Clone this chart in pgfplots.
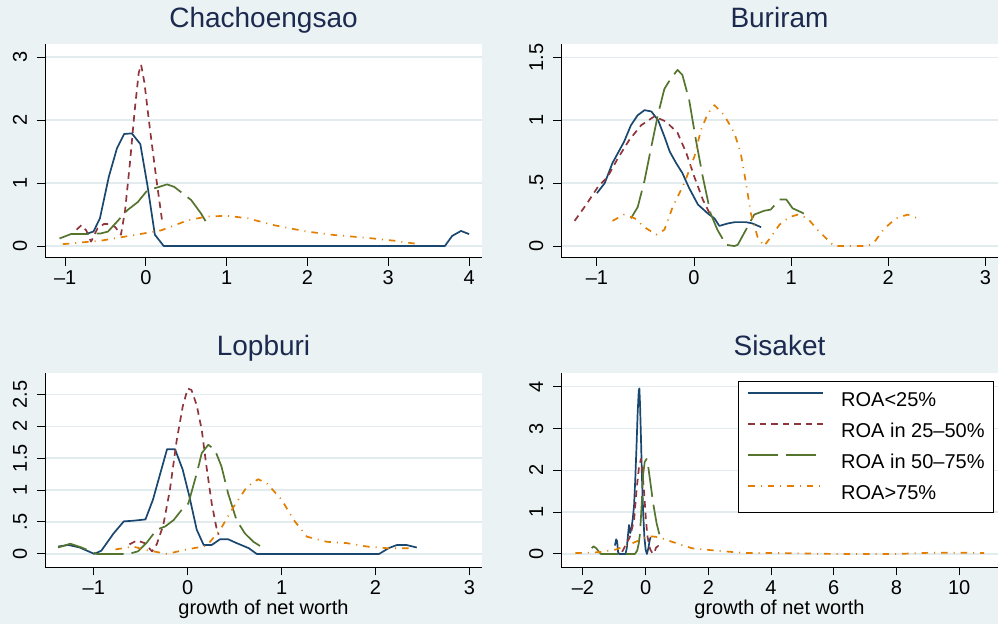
\documentclass[border=0pt]{standalone}
\usepackage{fontspec}
\setmainfont{Liberation Sans}
\usepackage{pgfplots}
\pgfplotsset{compat=1.18}

\definecolor{bgc}{RGB}{234,242,243}
\definecolor{gridc}{RGB}{226,235,238}
\definecolor{titlec}{RGB}{28,42,80}
\definecolor{s1}{RGB}{26,71,111}
\definecolor{s2}{RGB}{144,53,59}
\definecolor{s3}{RGB}{85,117,47}
\definecolor{s4}{RGB}{227,126,0}

\newcommand{\tickfont}{\fontsize{20}{24}\selectfont}
\newcommand{\titlefont}{\fontsize{28}{32}\selectfont}

\pgfplotsset{
  panel/.style={
    scale only axis,
    width=437pt,
    axis background/.style={fill=white},
    axis x line*=bottom, axis y line*=left,
    axis line style={black, line width=1pt, -},
    tick align=outside,
    major tick length=8pt,
    tick style={black, line width=1pt},
    ymajorgrids,
    grid style={gridc, line width=1.5pt},
    title style={font=\titlefont, color=titlec, at={(0.5,1)}, anchor=base, yshift=10.7pt},
    xticklabel style={font=\tickfont, anchor=base, yshift=-19pt},
    yticklabel style={font=\tickfont, xshift=-10pt, rotate=90, anchor=base},
    every axis plot/.append style={line width=1.7pt, line join=round},
  },
  c1/.style={s1, solid},
  c2/.style={s2, dash pattern=on 6.5pt off 5pt},
  c3/.style={s3, dash pattern=on 30pt off 8pt},
  c4/.style={s4, dash pattern=on 6.5pt off 6pt on 1pt off 6pt},
}

\begin{document}
\begin{tikzpicture}
\fill[bgc] (0,0) rectangle (998pt,624pt);

% Chachoengsao
\begin{axis}[panel, at={(45pt,366pt)}, anchor=south west, height=214pt,
  title={Chachoengsao},
  xmin=-1.25, xmax=4.16, ymin=-0.19, ymax=3.21,
  xtick={-1,0,1,2,3,4}, xticklabels={–1,0,1,2,3,4},
  ytick={0,1,2,3}, yticklabels={0,1,2,3}]
\addplot[c1] coordinates {
 (-0.72,0.20) (-0.65,0.23) (-0.57,0.44) (-0.46,1.10) (-0.36,1.55) (-0.27,1.78)
 (-0.175,1.79) (-0.07,1.62) (0.02,0.95) (0.11,0.18) (0.22,0) (3.70,0)
 (3.79,0.16) (3.90,0.24) (4.00,0.19)};
\addplot[c2] coordinates {
 (-0.86,0.26) (-0.80,0.33) (-0.74,0.25) (-0.68,0.07) (-0.60,0.28) (-0.52,0.35)
 (-0.44,0.35) (-0.38,0.30) (-0.31,0.18) (-0.26,0.55) (-0.20,1.30) (-0.14,2.15)
 (-0.09,2.75) (-0.06,2.88) (-0.02,2.60) (0.05,1.85) (0.13,1.05) (0.20,0.40)};
\addplot[c3] coordinates {
 (-1.07,0.12) (-0.93,0.19) (-0.72,0.19) (-0.56,0.20) (-0.47,0.23) (-0.37,0.37)
 (-0.23,0.57) (-0.10,0.70) (0.02,0.89) (0.14,0.93) (0.26,0.98) (0.35,0.94)
 (0.45,0.84) (0.56,0.73) (0.68,0.52) (0.76,0.35)};
\addplot[c4] coordinates {
 (-1.03,0.03) (-0.56,0.085) (-0.14,0.175) (0.19,0.25) (0.52,0.41) (0.76,0.47)
 (1.01,0.48) (1.26,0.44) (1.59,0.33) (1.99,0.23) (2.33,0.175) (2.74,0.13)
 (3.07,0.085) (3.38,0.03)};
\end{axis}

% Buriram
\begin{axis}[panel, at={(561pt,366pt)}, anchor=south west, height=214pt,
  title={Buriram},
  xmin=-1.37, xmax=3.13, ymin=-0.095, ymax=1.606,
  xtick={-1,0,1,2,3}, xticklabels={–1,0,1,2,3},
  ytick={0,0.5,1,1.5}, yticklabels={0,.5,1,1.5}]
\addplot[c1] coordinates {
 (-1.0,0.42) (-0.92,0.50) (-0.84,0.66) (-0.72,0.83) (-0.65,0.96) (-0.58,1.04)
 (-0.51,1.08) (-0.44,1.07) (-0.37,1.00) (-0.305,0.87) (-0.25,0.75) (-0.185,0.66)
 (-0.12,0.58) (-0.05,0.46) (0.04,0.33) (0.14,0.26) (0.21,0.22) (0.26,0.16)
 (0.35,0.18) (0.42,0.19) (0.535,0.19) (0.60,0.18) (0.69,0.15)};
\addplot[c2] coordinates {
 (-1.23,0.20) (-1.11,0.33) (-0.99,0.47) (-0.89,0.55) (-0.79,0.69) (-0.67,0.84)
 (-0.545,0.96) (-0.41,1.03) (-0.29,0.99) (-0.17,0.90) (-0.08,0.74) (0.003,0.55)
 (0.09,0.37) (0.16,0.26)};
\addplot[c3] coordinates {
 (-0.65,0.22) (-0.58,0.31) (-0.51,0.52) (-0.44,0.79) (-0.37,1.05) (-0.305,1.25)
 (-0.24,1.33) (-0.17,1.40) (-0.12,1.36) (-0.05,1.16) (0.02,0.84) (0.09,0.55)
 (0.17,0.26) (0.24,0.13) (0.33,0.01) (0.415,0) (0.45,0.01) (0.535,0.13)
 (0.62,0.25) (0.72,0.28) (0.79,0.29) (0.88,0.37) (0.95,0.37) (1.015,0.30)
 (1.10,0.27) (1.20,0.23)};
\addplot[c4] coordinates {
 (-0.84,0.20) (-0.72,0.25) (-0.61,0.22) (-0.51,0.15) (-0.39,0.09) (-0.305,0.13)
 (-0.22,0.31) (-0.10,0.50) (0.003,0.71) (0.07,0.92) (0.14,1.05) (0.21,1.12)
 (0.31,1.04) (0.415,0.90) (0.48,0.74) (0.535,0.50) (0.585,0.26) (0.655,0.07)
 (0.72,0) (0.79,0.07) (0.88,0.17) (0.98,0.23) (1.07,0.25) (1.17,0.22)
 (1.27,0.13) (1.375,0.05) (1.44,0) (1.79,0) (1.86,0.035) (1.96,0.14)
 (2.08,0.22) (2.20,0.25) (2.34,0.21)};
\end{axis}

% Lopburi
\begin{axis}[panel, at={(45pt,56.7pt)}, anchor=south west, height=194pt,
  title={Lopburi}, title style={yshift=0.9pt},
  xlabel={growth of net worth},
  xlabel style={font=\tickfont, at={(axis description cs:0.5,0)}, anchor=base, yshift=-47.5pt},
  xmin=-1.52, xmax=3.135, ymin=-0.21, ymax=2.83,
  xtick={-1,0,1,2,3}, xticklabels={–1,0,1,2,3},
  ytick={0,0.5,1,1.5,2,2.5}, yticklabels={0,.5,1,1.5,2,2.5}]
\addplot[c1] coordinates {
 (-1.38,0.115) (-1.27,0.14) (-1.15,0.10) (-0.995,0) (-0.92,0.05) (-0.79,0.32)
 (-0.68,0.51) (-0.58,0.52) (-0.45,0.54) (-0.37,0.85) (-0.22,1.64) (-0.135,1.64)
 (-0.053,1.32) (0.018,0.90) (0.096,0.38) (0.17,0.14) (0.256,0.14) (0.345,0.23)
 (0.43,0.23) (0.52,0.17) (0.65,0.09) (0.735,0) (2.04,0) (2.14,0.09)
 (2.23,0.14) (2.33,0.14) (2.44,0.10)};
\addplot[c2] coordinates {
 (-0.62,0.15) (-0.54,0.21) (-0.46,0.17) (-0.38,0.04) (-0.33,0.15) (-0.26,0.45)
 (-0.19,1.0) (-0.117,1.78) (-0.053,2.31) (0.0,2.59) (0.04,2.57) (0.096,2.33)
 (0.15,1.94) (0.20,1.37) (0.256,0.79) (0.31,0.38) (0.33,0.30)};
\addplot[c3] coordinates {
 (-1.38,0.10) (-1.25,0.16) (-1.13,0.10) (-0.97,0) (-0.63,0) (-0.53,0.04)
 (-0.44,0.17) (-0.33,0.38) (-0.24,0.43) (-0.15,0.53) (-0.064,0.69) (0.007,0.79)
 (0.096,1.26) (0.15,1.58) (0.22,1.71) (0.29,1.63) (0.36,1.37) (0.43,0.95)
 (0.52,0.53) (0.61,0.32) (0.70,0.19) (0.77,0.125)};
\addplot[c4] coordinates {
 (-0.77,0.07) (-0.58,0.115) (-0.44,0.06) (-0.22,0) (-0.01,0.07) (0.20,0.125)
 (0.345,0.375) (0.49,0.74) (0.63,1.05) (0.75,1.17) (0.84,1.11) (1.0,0.85)
 (1.13,0.53) (1.27,0.27) (1.48,0.19) (1.69,0.17) (1.91,0.115) (2.12,0.09)
 (2.40,0.09)};
\end{axis}

% Sisaket
\begin{axis}[panel, at={(561pt,56.7pt)}, anchor=south west, height=194pt,
  title={Sisaket}, title style={yshift=0.9pt},
  xlabel={growth of net worth},
  xlabel style={font=\tickfont, at={(axis description cs:0.5,0)}, anchor=base, yshift=-47.5pt},
  xmin=-2.70, xmax=11.24, ymin=-0.32, ymax=4.32,
  xtick={-2,0,2,4,6,8,10}, xticklabels={–2,0,2,4,6,8,10},
  ytick={0,1,2,3,4}, yticklabels={0,1,2,3,4},
  legend cell align=left,
  legend image code/.code={\draw[#1] (0pt,7pt) -- (75pt,7pt);},
  legend style={at={(axis description cs:0.405,0.962)}, anchor=north west,
    draw=black, line width=1pt, fill=white, inner sep=9pt,
    row sep=11pt, column sep=17pt, font=\tickfont,
    nodes={inner sep=0pt, text height=16pt, text depth=4pt}}]
\addplot[c1] coordinates {
 (-0.98,0.20) (-0.94,0.35) (-0.91,0.30) (-0.88,0.05) (-0.85,0) (-0.64,0)
 (-0.60,0.15) (-0.57,0.40) (-0.53,0.69) (-0.49,0.50) (-0.45,0.62) (-0.41,0.85)
 (-0.37,1.15) (-0.33,1.8) (-0.29,2.6) (-0.255,3.37) (-0.22,3.9) (-0.20,3.96)
 (-0.18,3.6) (-0.15,2.8) (-0.12,1.9) (-0.08,1.0) (-0.04,0.4) (0.0,0.1)
 (0.04,0) (0.09,0.15) (0.13,0.33) (0.16,0.40)};
\addlegendentry{ROA<25\%}
\addplot[c2] coordinates {
 (-0.75,0.05) (-0.66,0.18) (-0.50,0.41) (-0.37,0.81) (-0.29,1.53) (-0.21,2.09)
 (-0.15,2.27) (-0.10,1.95) (-0.04,1.37) (0.01,0.81) (0.06,0.41) (0.14,0.12)
 (0.22,0.01) (0.27,0.02) (0.33,0.15) (0.40,0.19) (0.47,0.17) (0.52,0.14)};
\addlegendentry{ROA in 25–50\%}
\addplot[c3] coordinates {
 (-1.72,0.14) (-1.66,0.18) (-1.58,0.14) (-1.50,0.06) (-1.43,0) (-0.34,0)
 (-0.27,0.08) (-0.22,0.25) (-0.18,0.49) (-0.13,1.13) (-0.08,1.9) (-0.03,2.2)
 (0.03,2.27) (0.08,2.1) (0.14,1.77) (0.24,1.21) (0.35,0.73) (0.47,0.37)};
\addlegendentry{ROA in 50–75\%}
\addplot[c4] coordinates {
 (-2.24,0.02) (-1.5,0.04) (-0.97,0.1) (-0.44,0.25) (-0.2,0.33) (-0.01,0.40)
 (0.2,0.42) (0.41,0.40) (0.84,0.29) (1.48,0.135) (2.22,0.08) (3.18,0.02)
 (4.35,0.02) (5.95,0) (8.07,0) (9.14,0.03) (10.2,0.03) (10.8,0.02)};
\addlegendentry{ROA>75\%}
\end{axis}

\pgfresetboundingbox
\useasboundingbox (0,0) rectangle (998pt,624pt);
\end{tikzpicture}
\end{document}
